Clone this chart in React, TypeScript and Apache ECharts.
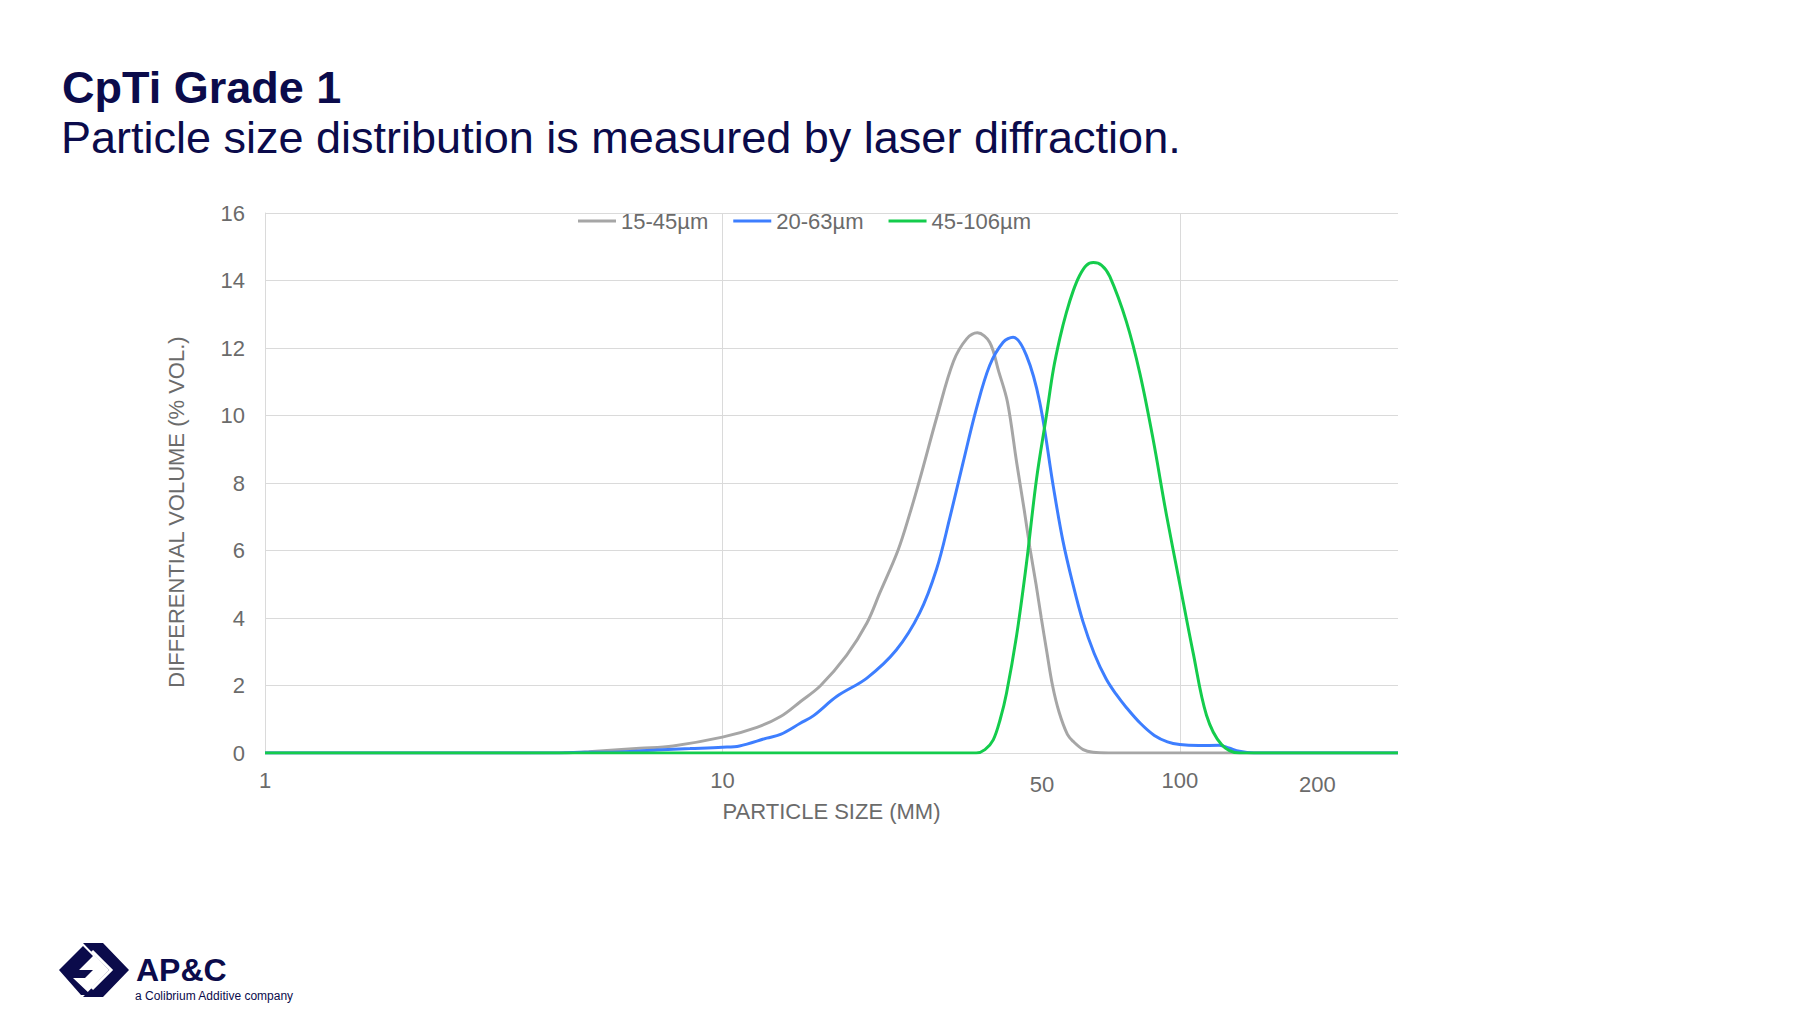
import React, { useEffect, useRef } from 'react';
import * as echarts from 'echarts';

// ---- Data ----
const seriesNames = ['15-45µm', '20-63µm', '45-106µm'];
const seriesColors = ['#A6A6A6', '#3D7EFF', '#14CC4C'];

const sizes15to45 = [1, 3, 4.5, 5.1, 6.6, 7.8, 10, 11.9, 13.4, 14.8, 16.4, 18.7, 20.7, 22.1, 24.2, 25.7, 27.0, 29.5, 32.0, 34.2, 36.1, 38.4, 40.2, 42.0, 44.0, 45.7, 47.0, 48.5, 49.8, 51.2, 52.7, 54.5, 56.8, 58.4, 61.5, 64.6, 70, 100, 300];
const volume15to45 = [0, 0, 0.01, 0.04, 0.14, 0.21, 0.47, 0.76, 1.08, 1.52, 2.0, 2.9, 3.85, 4.75, 6.0, 7.1, 8.1, 10.0, 11.6, 12.27, 12.45, 12.17, 11.3, 10.4, 8.6, 7.2, 6.1, 5.0, 4.0, 3.0, 2.0, 1.2, 0.55, 0.35, 0.1, 0.02, 0, 0, 0];

const sizes20to63 = [1, 4, 5.0, 6.0, 7.2, 8.5, 10, 10.9, 12.5, 13.4, 14.8, 15.8, 17.8, 20.7, 24.0, 27.0, 29.4, 31.4, 33.6, 35.9, 38.4, 41.1, 43.2, 46.2, 49.4, 52.9, 55.5, 58.4, 61.4, 65.0, 69.0, 72.5, 76.4, 82, 88, 94, 100, 110, 122, 128, 135, 145, 300];
const volume20to63 = [0, 0, 0.02, 0.03, 0.09, 0.13, 0.17, 0.21, 0.44, 0.55, 0.88, 1.1, 1.68, 2.22, 3.05, 4.15, 5.45, 6.95, 8.61, 10.19, 11.48, 12.17, 12.32, 11.78, 10.4, 7.9, 6.3, 5.0, 3.9, 2.95, 2.2, 1.75, 1.35, 0.88, 0.52, 0.33, 0.25, 0.22, 0.23, 0.15, 0.05, 0, 0];

const sizes45to106 = [1, 30, 35.9, 37.5, 39.1, 40.5, 41.8, 44.0, 46.2, 48.6, 51.1, 52.9, 54.7, 56.5, 58.5, 60.4, 62.5, 64.7, 67.5, 70.3, 76.4, 81.8, 87.4, 93.5, 100, 107, 114.4, 123.4, 135, 300];
const volume45to106 = [0, 0, 0, 0.1, 0.39, 1.0, 1.77, 3.5, 5.6, 8.1, 10.0, 11.35, 12.3, 13.05, 13.7, 14.15, 14.45, 14.53, 14.45, 14.12, 12.79, 11.25, 9.31, 7.06, 5.01, 2.96, 1.12, 0.25, 0, 0];

const xLabelValuesMain = [1, 10, 100];
const xLabelValuesExtra = [50, 200];
const yMin = 0;
const yMax = 16;
const yStep = 2;
const xMin = 1;
const xMax = 300;

const FONT = "'Liberation Sans', Arial, Helvetica, sans-serif";
const NAVY = '#0b0b4b';
const AXIS_TEXT = '#6b6b6b';
const GRID = '#dadada';

function pairs(xs: number[], ys: number[]) {
  return xs.map((x, i) => [x, ys[i]]);
}

export default function App() {
  const ref = useRef<HTMLDivElement>(null);

  useEffect(() => {
    if (!ref.current) return;
    const chart = echarts.init(ref.current, undefined, { renderer: 'svg' });

    const allSizes = [sizes15to45, sizes20to63, sizes45to106];
    const allVols = [volume15to45, volume20to63, volume45to106];

    const option: any = {
      animation: false,
      backgroundColor: '#ffffff',
      textStyle: { fontFamily: FONT },
      grid: { left: 265, top: 213, width: 1133, height: 540, containLabel: false, outerBoundsMode: 'none' },
      legend: {
        data: seriesNames,
        left: 573,
        top: 205,
        icon: 'rect',
        itemWidth: 38,
        itemHeight: 3,
        itemGap: 25,
        textStyle: { fontSize: 22, color: AXIS_TEXT, fontFamily: FONT },
      },
      xAxis: [
        {
          type: 'log',
          logBase: 10,
          min: xMin,
          max: xMax,
          position: 'bottom',
          axisLine: { show: false },
          axisTick: { show: false },
          axisLabel: {
            fontSize: 22,
            color: AXIS_TEXT,
            margin: 16,
            fontFamily: FONT,
            customValues: xLabelValuesMain,
            formatter: (v: number) => String(Math.round(v)),
          },
          splitLine: { show: true, showMinLine: true, showMaxLine: false, lineStyle: { color: GRID, width: 1 } },
          name: 'PARTICLE SIZE (MM)',
          nameLocation: 'middle',
          nameGap: 47,
          nameTextStyle: { fontSize: 22, color: AXIS_TEXT, fontFamily: FONT },
        },
        {
          type: 'log',
          logBase: 10,
          min: xMin,
          max: xMax,
          position: 'bottom',
          axisLine: { show: false },
          axisTick: { show: false },
          splitLine: { show: false },
          axisLabel: {
            fontSize: 22,
            color: AXIS_TEXT,
            margin: 20,
            fontFamily: FONT,
            customValues: xLabelValuesExtra,
            formatter: (v: number) => String(Math.round(v)),
          },
        },
      ],
      yAxis: {
        type: 'value',
        min: yMin,
        max: yMax,
        interval: yStep,
        axisLine: { show: true, lineStyle: { color: GRID, width: 1 } },
        axisTick: { show: false },
        axisLabel: { fontSize: 22, color: AXIS_TEXT, margin: 20, fontFamily: FONT },
        splitLine: { show: true, lineStyle: { color: GRID, width: 1 } },
      },
      series: seriesNames.map((name, i) => ({
        name,
        type: 'line',
        xAxisIndex: 0,
        data: pairs(allSizes[i], allVols[i]),
        showSymbol: false,
        symbol: 'none',
        smooth: 0.35,
        color: seriesColors[i],
        lineStyle: { color: seriesColors[i], width: 3 },
        z: 2 + i,
      })),
      graphic: [
        {
          type: 'text',
          x: 62,
          y: 87,
          style: { text: 'CpTi Grade 1', fontSize: 45, fontWeight: 'bold', fontFamily: FONT, fill: NAVY, verticalAlign: 'middle' },
        },
        {
          type: 'text',
          x: 61,
          y: 137,
          style: { text: 'Particle size distribution is measured by laser diffraction.', fontSize: 45, fontFamily: FONT, fill: NAVY, verticalAlign: 'middle' },
        },
        {
          type: 'text',
          x: 176,
          y: 512,
          rotation: Math.PI / 2,
          style: { text: 'DIFFERENTIAL VOLUME (% VOL.)', fontSize: 22, fontFamily: FONT, fill: AXIS_TEXT, align: 'center', verticalAlign: 'middle' },
        },
        // Logo
        {
          type: 'group',
          x: 59,
          y: 943,
          children: [
            {
              type: 'polygon',
              shape: { points: [[24, 0], [44, 0], [70, 27], [44, 54], [24, 54], [50, 27]] },
              style: { fill: NAVY },
            },
            {
              type: 'polyline',
              shape: { points: [[33, 8], [52, 27], [33, 46]] },
              style: { stroke: '#ffffff', lineWidth: 3, fill: 'none' },
            },
            {
              type: 'polygon',
              shape: { points: [[0, 27], [24, 3], [34, 13], [20, 27], [34, 27], [26, 35], [14, 35], [32, 52], [22, 52]] },
              style: { fill: NAVY },
            },
          ],
        },
        {
          type: 'text',
          x: 136,
          y: 970,
          style: { text: 'AP&C', fontSize: 32, fontWeight: 'bold', fontFamily: FONT, fill: NAVY, verticalAlign: 'middle' },
        },
        {
          type: 'text',
          x: 135,
          y: 996,
          style: { text: 'a Colibrium Additive company', fontSize: 12, fontFamily: FONT, fill: NAVY, verticalAlign: 'middle' },
        },
      ],
    };

    chart.setOption(option);
    return () => {
      chart.dispose();
    };
  }, []);

  return (
    <div
      ref={ref}
      style={{ position: 'absolute', left: 0, top: 0, width: 1800, height: 1021, background: '#fff' }}
    />
  );
}
